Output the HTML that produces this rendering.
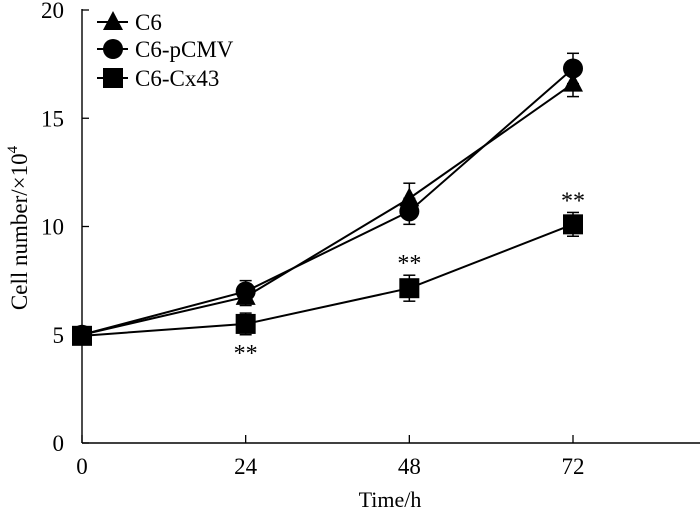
<!DOCTYPE html>
<html><head><meta charset="utf-8"><style>
html,body{margin:0;padding:0;background:#fff;}
svg{display:block;font-family:"Liberation Serif",serif;}
</style></head><body>
<svg id="c" width="700" height="509" viewBox="0 0 700 509"></svg>
<script>
const times=[0,24,48,72];
const c6=[5,6.75,11.3,16.6];
const c6Err=[0,0.4,0.7,0.6];
const pcmv=[5,7.0,10.7,17.3];
const pcmvErr=[0,0.5,0.6,0.7];
const cx43=[4.95,5.5,7.15,10.1];
const cx43Err=[0,0.5,0.6,0.55];
const yTicks=[0,5,10,15,20];
const xTicks=[0,24,48,72];
const sigLabels=["","**","**","**"];

const NS="http://www.w3.org/2000/svg";
const svg=document.getElementById('c');
const X=v=>82+v*(573-82)/72;
const Y=v=>443-v*(433/20);
function el(t,a,p){const e=document.createElementNS(NS,t);for(const k in a)e.setAttribute(k,a[k]);(p||svg).appendChild(e);return e;}

const axes=el('g',{});


el('line',{x1:82,y1:9,x2:82,y2:443,stroke:'#000','stroke-width':1.4},axes);
el('line',{x1:82,y1:443,x2:700,y2:443,stroke:'#000','stroke-width':1.4},axes);
yTicks.forEach(v=>{
  el('line',{x1:82,y1:Y(v),x2:89,y2:Y(v),stroke:'#000','stroke-width':1.3},axes);
  const t=el('text',{x:64,y:Y(v)+8,'text-anchor':'end','font-size':23},axes);t.textContent=v;
  
  
});
xTicks.forEach(v=>{
  el('line',{x1:X(v),y1:443,x2:X(v),y2:435,stroke:'#000','stroke-width':1.3},axes);
  const t=el('text',{x:X(v),y:474,'text-anchor':'middle','font-size':23},axes);t.textContent=v;
  
  
});
const xt=el('text',{x:390,y:507,'text-anchor':'middle','font-size':22});xt.textContent='Time/h';


const yt=el('text',{x:0,y:0,'text-anchor':'middle','font-size':23,transform:'translate(27,228) rotate(-90)'});
yt.innerHTML='Cell number/×10<tspan dy="-10" font-size="15">4</tspan>';



function marker(shape,x,y,g){
  if(shape==='tri')el('polygon',{points:`${x},${y-11} ${x-10},${y+8} ${x+10},${y+8}`,fill:'#000'},g);
  else if(shape==='circ')el('circle',{cx:x,cy:y,r:10,fill:'#000'},g);
  else el('rect',{x:x-10,y:y-10,width:20,height:20,fill:'#000'},g);
}
function series(name,vals,errs,shape){
  const g=el('g',{});
  
  
  el('polyline',{points:vals.map((v,i)=>X(times[i])+','+Y(v)).join(' '),fill:'none',stroke:'#000','stroke-width':2},g);
  vals.forEach((v,i)=>{
    if(errs[i]>0){
      el('line',{x1:X(times[i]),y1:Y(v-errs[i]),x2:X(times[i]),y2:Y(v+errs[i]),stroke:'#000','stroke-width':1.5},g);
      [v-errs[i],v+errs[i]].forEach(e=>el('line',{x1:X(times[i])-6,y1:Y(e),x2:X(times[i])+6,y2:Y(e),stroke:'#000','stroke-width':1.5},g));
    }
    marker(shape,X(times[i]),Y(v),g);
  });
}
series('series-c6',c6,c6Err,'tri');
series('series-c6-pcmv',pcmv,pcmvErr,'circ');
series('series-c6-cx43',cx43,cx43Err,'sq');
sigLabels.forEach((s,i)=>{
  if(!s)return;
  const below=i===1;
  const y=below?Y(cx43[i]-cx43Err[i])+26:Y(cx43[i]+cx43Err[i])-4;
  const t=el('text',{x:X(times[i]),y:y,'text-anchor':'middle','font-size':24});t.textContent=s;
  
  
});
const legend=[['C6','tri',22],['C6-pCMV','circ',49],['C6-Cx43','sq',78]];
legend.forEach(([lab,sh,y])=>{
  const g=el('g',{});
  
  
  el('line',{x1:97,y1:y,x2:128,y2:y,stroke:'#000','stroke-width':2},g);
  marker(sh,113,y,g);
  const t=el('text',{x:135,y:y+8,'font-size':23},g);t.textContent=lab;
});
</script>
</body></html>
